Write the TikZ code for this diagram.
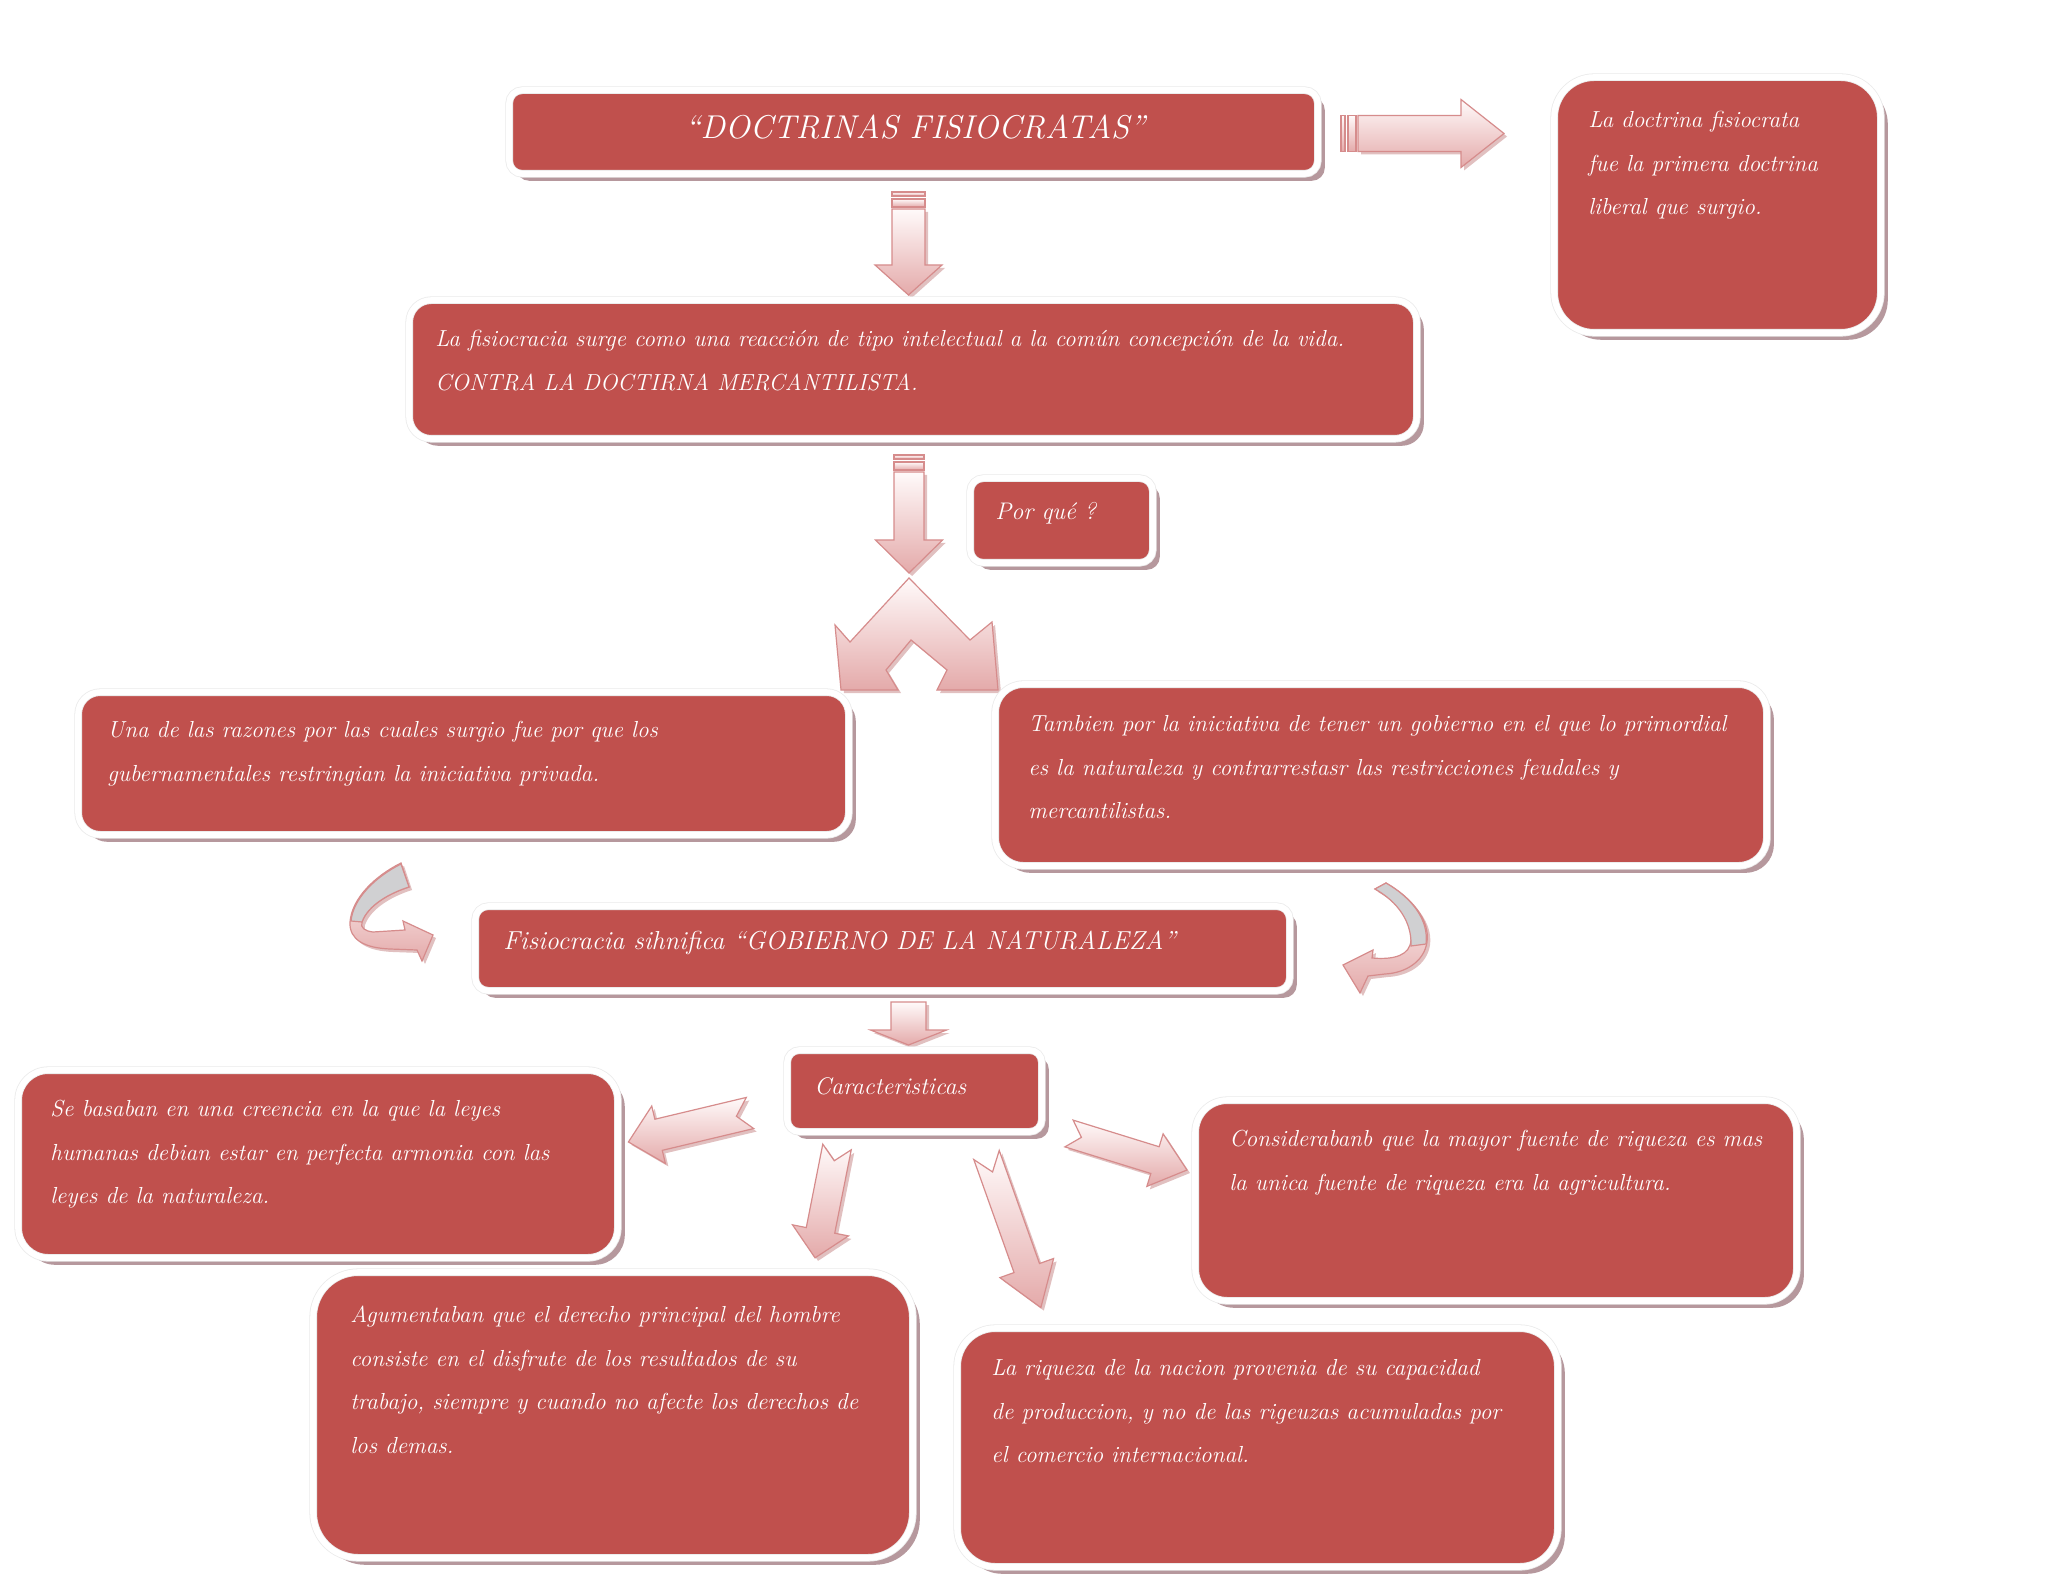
\documentclass[tikz,border=0pt]{standalone}
\usepackage{fontspec}
\usetikzlibrary{shadows}
\definecolor{boxred}{RGB}{192,80,77}
\definecolor{boxshadow}{RGB}{182,152,157}
\definecolor{arrowedge}{RGB}{214,140,140}
\definecolor{arrowpink}{RGB}{228,170,170}
\definecolor{arrowlight}{RGB}{255,250,250}
\definecolor{ribbongray}{RGB}{208,208,210}
\definecolor{arrowshade}{RGB}{205,150,150}
\tikzset{
 rbox/.style={rectangle, fill=boxred, draw=black!8, double=white, double distance=3pt, line width=0.4pt,
   drop shadow={shadow xshift=3.5pt, shadow yshift=-3.5pt, fill=boxshadow, opacity=1}, inner sep=0pt},
 btext/.style={text=white, font=\fontsize{11.6}{21.75}\selectfont\itshape, align=left, anchor=north west, inner sep=0pt},
 ltext/.style={text=white, font=\fontsize{12}{14}\selectfont\itshape, anchor=west, inner sep=0pt},
 arrowbody/.style={draw=arrowedge, line width=0.6pt, top color=arrowlight, bottom color=arrowpink, line join=miter},
 arrowshadowst/.style={fill=arrowshade, opacity=0.6},
 ribbon/.style={draw=arrowedge, line width=0.6pt, fill=ribbongray},
}
% start, length, shaft half width, head half width, head length, notch
\newcommand\arrowpath[6]{(#1,-#3) -- ({#2-#5},-#3) -- ({#2-#5},-#4) -- (#2,0) -- ({#2-#5},#4) -- ({#2-#5},#3) -- (#1,#3) -- ({#1+#6},0) -- cycle}
% tail x, tail y, screen angle, length, shaft half, head half, head length, notch
\newcommand\sarrow[8]{%
 \begin{scope}[shift={({#1+3},{#2+3})}, rotate=-#3]
  \path[arrowshadowst] \arrowpath{0}{#4}{#5}{#6}{#7}{#8};
 \end{scope}
 \begin{scope}[shift={(#1,#2)}, rotate=-#3]
  \path[arrowbody] \arrowpath{0}{#4}{#5}{#6}{#7}{#8};
 \end{scope}}
% arrow with two bars at its tail
\newcommand\barsarrow[7]{%
 \begin{scope}[shift={({#1+3},{#2+3})}, rotate=-#3]
  \path[arrowshadowst] \arrowpath{17}{#4}{#5}{#6}{#7}{0};
 \end{scope}
 \begin{scope}[shift={(#1,#2)}, rotate=-#3]
  \path[arrowbody] (0,-#5) rectangle (4,#5);
  \path[arrowbody] (7,-#5) rectangle (15,#5);
  \path[arrowbody] \arrowpath{17}{#4}{#5}{#6}{#7}{0};
 \end{scope}}
\newcommand\redbox[6]{%
 \pgfmathsetmacro\rbw{(#4-#2+7.6)*0.5}%
 \pgfmathsetmacro\rbh{(#5-#3+7.6)*0.5}%
 \pgfmathsetmacro\rbr{#6*0.5}%
 \node[rbox, minimum width=\rbw pt, minimum height=\rbh pt, rounded corners=\rbr pt] (#1) at ({(#2+#4)/2},{(#3+#5)/2}) {};}
\begin{document}
\begin{tikzpicture}[x=0.5pt,y=-0.5pt]
\useasboundingbox (0,0) rectangle (2048,1582);
\fill[white] (0,0) rectangle (2048,1582);

% ---------- block arrows ----------
\barsarrow{1341}{133.5}{0}{163}{18}{34}{43}
\barsarrow{908.5}{192}{90}{103}{16.5}{33.5}{30}
\barsarrow{909}{455}{90}{118}{15}{33.5}{33}
\sarrow{908.5}{1002}{90}{43}{17.5}{38}{15}{0}
\sarrow{750}{1113}{166.6}{125}{16}{29.5}{31}{14}
\sarrow{837}{1147}{101.2}{113}{14.5}{28.5}{28}{14}
\sarrow{986.5}{1155}{70.4}{162}{13.5}{28.5}{42}{18}
\sarrow{1069}{1133.5}{17.2}{123.5}{14}{27.5}{33.5}{13}

% split arrow
\path[arrowshadowst, shift={(3,3)}] (909,578) -- (970,640) -- (992,622) -- (998,690) -- (937,690) -- (947,670) -- (911,640) -- (886,670) -- (898,690) -- (841,690) -- (835,625) -- (850,642) -- cycle;
\path[arrowbody] (909,578) -- (970,640) -- (992,622) -- (998,690) -- (937,690) -- (947,670) -- (911,640) -- (886,670) -- (898,690) -- (841,690) -- (835,625) -- (850,642) -- cycle;

% left curved arrow
\path[arrowshadowst, shift={(3,3)}] (401,863) .. controls (375,876) and (352,898) .. (350,922) .. controls (349,940) and (365,948) .. (390,949) -- (417,950) -- (422,961) -- (433,935) -- (403,921) -- (405,930) -- (373,932) .. controls (365,931) and (360,928) .. (362,922) .. controls (368,905) and (390,893) .. (409,887) -- cycle;
\path[arrowbody] (401,863) .. controls (375,876) and (352,898) .. (350,922) .. controls (349,940) and (365,948) .. (390,949) -- (417,950) -- (422,961) -- (433,935) -- (403,921) -- (405,930) -- (373,932) .. controls (365,931) and (360,928) .. (362,922) .. controls (368,905) and (390,893) .. (409,887) -- cycle;
\path[ribbon] (401,864) .. controls (375,877) and (353,899) .. (351,921) -- (362,922) .. controls (368,905) and (390,893) .. (409,887) -- cycle;

% right curved arrow
\path[arrowshadowst, shift={(3,3)}] (1375,889) -- (1386,883) .. controls (1412,898) and (1430,920) .. (1427,942) .. controls (1424,962) and (1405,973) .. (1385,974) -- (1368,976) -- (1360,993) -- (1343,965) -- (1373,950) -- (1372,958) .. controls (1395,960) and (1410,955) .. (1411,940) .. controls (1412,920) and (1398,902) .. (1375,889) -- cycle;
\path[arrowbody] (1375,889) -- (1386,883) .. controls (1412,898) and (1430,920) .. (1427,942) .. controls (1424,962) and (1405,973) .. (1385,974) -- (1368,976) -- (1360,993) -- (1343,965) -- (1373,950) -- (1372,958) .. controls (1395,960) and (1410,955) .. (1411,940) .. controls (1412,920) and (1398,902) .. (1375,889) -- cycle;
\path[ribbon] (1375,889) -- (1386,883) .. controls (1412,898) and (1429,920) .. (1426,944) -- (1411,946) .. controls (1412,922) and (1398,902) .. (1375,889) -- cycle;

% ---------- boxes ----------
\redbox{title}{513}{94}{1314}{170}{13}
\redbox{right}{1558}{81}{1877}{329}{40}
\redbox{surge}{413}{304}{1413}{435}{22}
\redbox{porque}{974}{482}{1149}{559}{13}
\redbox{una}{82}{696}{845}{831}{22}
\redbox{tambien}{999}{688}{1763}{862}{28}
\redbox{fisio}{479}{910}{1286}{987}{13}
\redbox{carac}{791}{1054}{1038}{1128}{12}
\redbox{basaban}{22}{1074}{614}{1254}{30}
\redbox{consid}{1199}{1104}{1793}{1297}{32}
\redbox{agument}{317}{1276}{909}{1554}{45}
\redbox{riqueza}{961}{1332}{1554}{1563}{38}

% ---------- texts ----------
\node[text=white, font=\fontsize{16.5}{18}\selectfont\itshape, inner sep=0pt] (t-title) at (915,127) {“DOCTRINAS FISIOCRATAS”};
\node[btext] (t-right) at (1588,111) {La doctrina fisiocrata\\fue la primera doctrina\\liberal que surgio.};
\node[btext] (t-surge) at (435,330) {La fisiocracia surge como una reacción de tipo intelectual a la común concepción de la vida.\\CONTRA LA DOCTIRNA MERCANTILISTA.};
\node[ltext] (t-porque) at (995,513) {Por qué ?};
\node[btext] (t-una) at (107,721) {Una de las razones por las cuales surgio fue por que los\\gubernamentales restringian la iniciativa privada.};
\node[btext] (t-tambien) at (1028,715) {Tambien por la iniciativa de tener un gobierno en el que lo primordial\\es la naturaleza y contrarrestasr las restricciones feudales y\\mercantilistas.};
\node[ltext, font=\fontsize{13}{15}\selectfont\itshape] (t-fisio) at (503,943) {Fisiocracia sihnifica “GOBIERNO DE LA NATURALEZA”};
\node[ltext] (t-carac) at (814,1086) {Caracteristicas};
\node[btext] (t-basaban) at (50,1100) {Se basaban en una creencia en la que la leyes\\humanas debian estar en perfecta armonia con las\\leyes de la naturaleza.};
\node[btext] (t-consid) at (1229,1130) {Considerabanb que la mayor fuente de riqueza es mas\\la unica fuente de riqueza era la agricultura.};
\node[btext] (t-agument) at (350,1306) {Agumentaban que el derecho principal del hombre\\consiste en el disfrute de los resultados de su\\trabajo, siempre y cuando no afecte los derechos de\\los demas.};
\node[btext] (t-riqueza) at (991,1359) {La riqueza de la nacion provenia de su capacidad\\de produccion, y no de las rigeuzas acumuladas por\\el comercio internacional.};
\end{tikzpicture}
\end{document}
